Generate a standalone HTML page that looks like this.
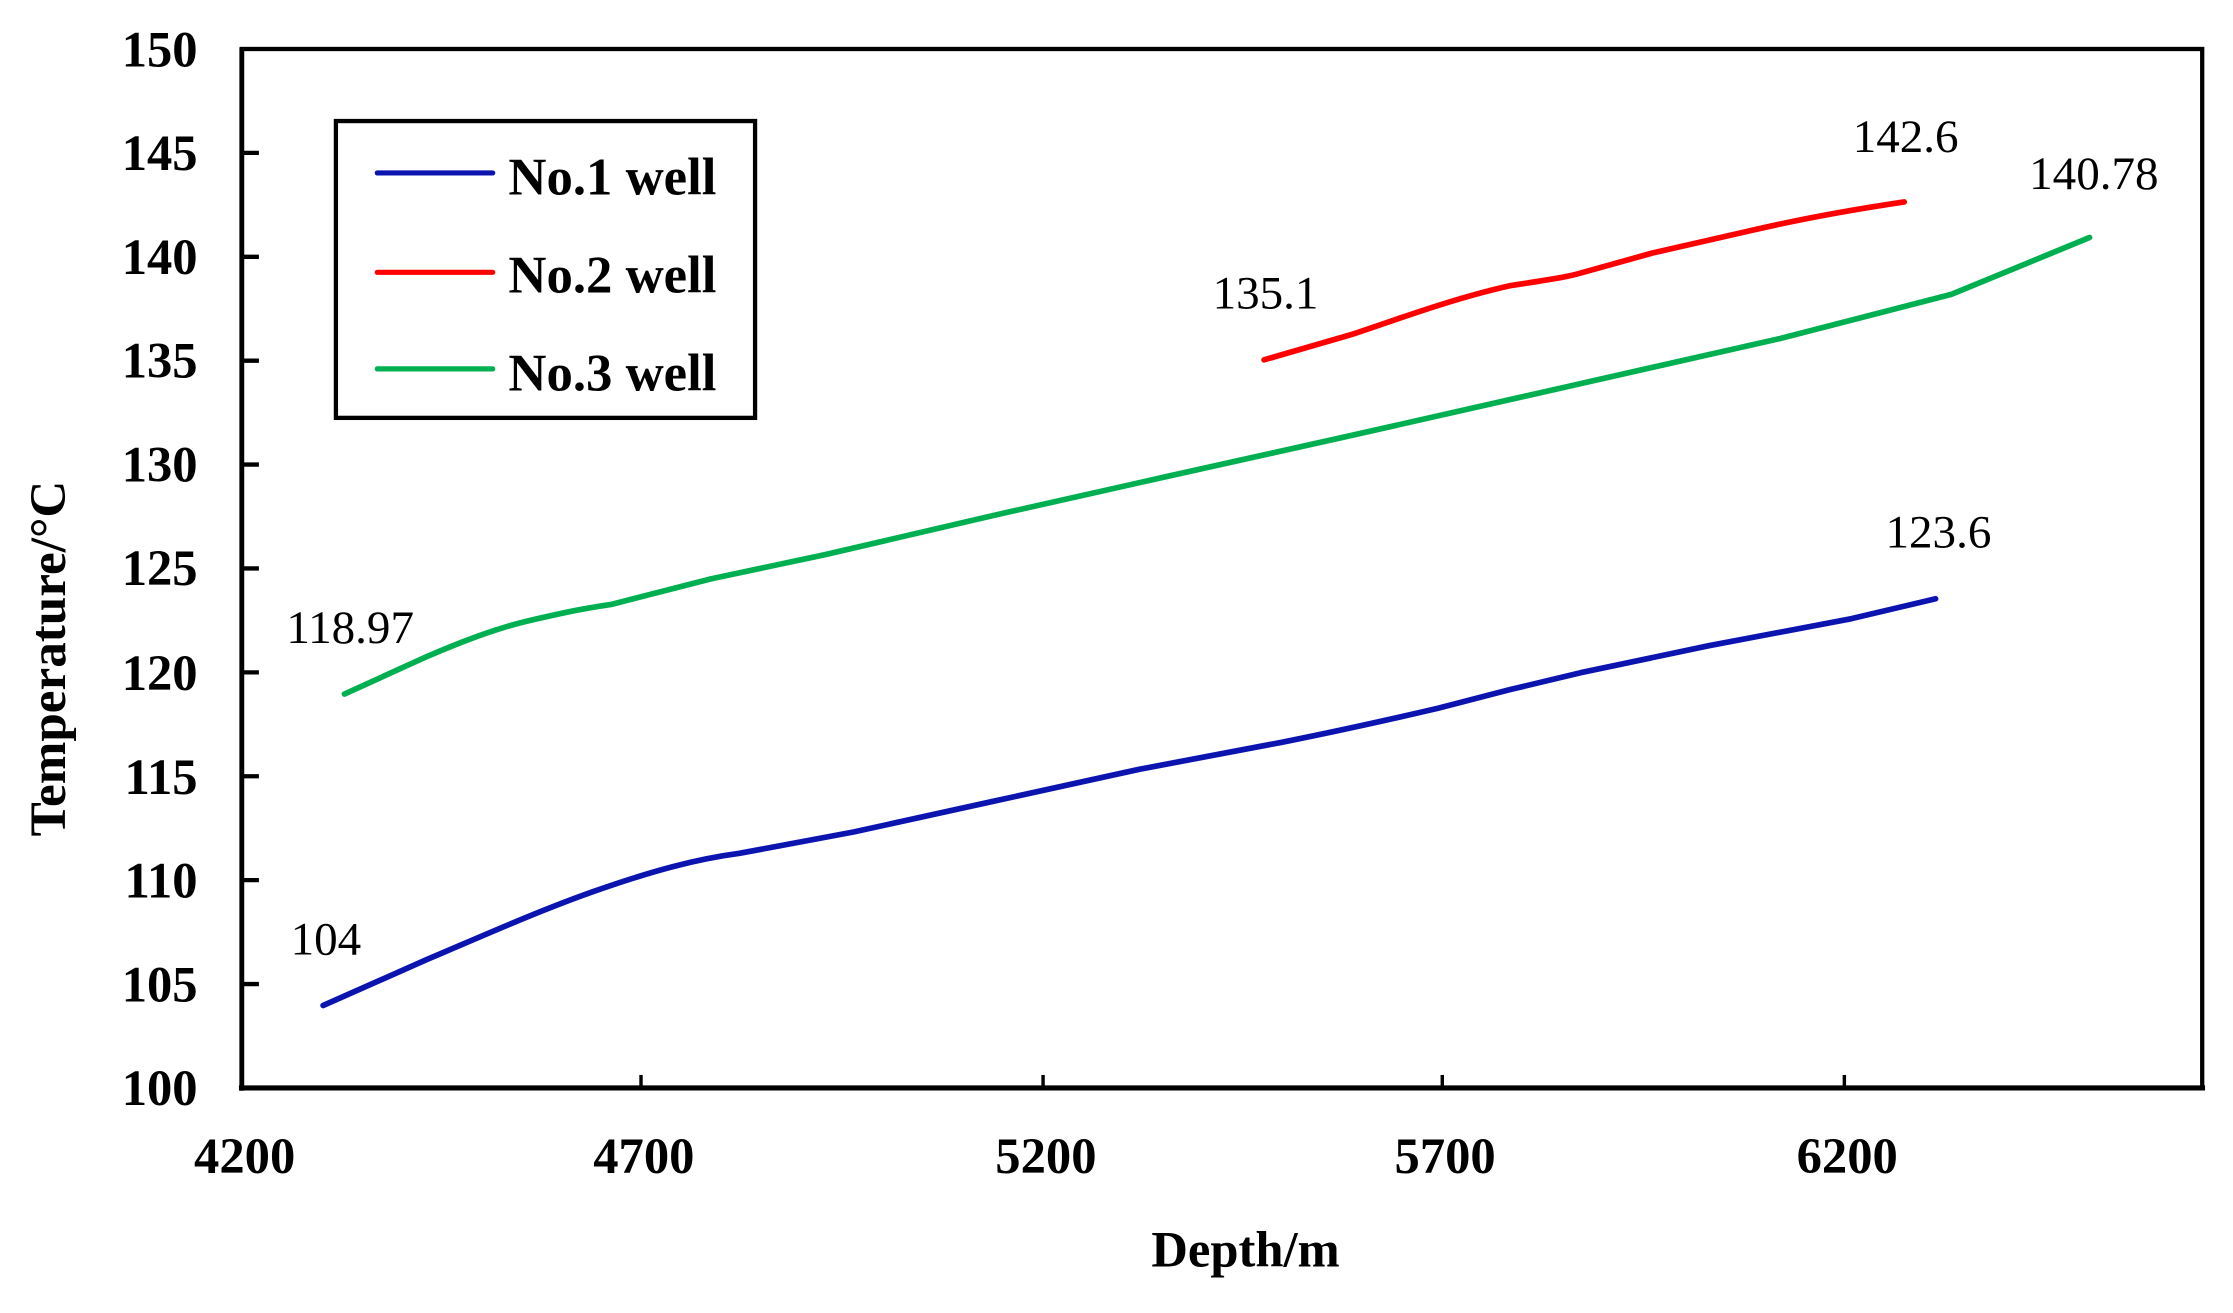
<!DOCTYPE html>
<html><head><meta charset="utf-8"><style>html,body{margin:0;padding:0;background:#fff}svg{display:block}</style></head>
<body>
<svg width="2233" height="1313" viewBox="1.4 0 1566.2 911.2" preserveAspectRatio="none" xmlns="http://www.w3.org/2000/svg" font-family="'Liberation Serif', serif">
<rect x="0" y="0" width="1570" height="912" fill="#fff"/>
<!-- axes -->
<rect x="171" y="34" width="1375" height="721" fill="none" stroke="#000" stroke-width="3"/>
<line x1="169" y1="755" x2="1548" y2="755" stroke="#000" stroke-width="3.6"/>
<line x1="171" y1="33" x2="171" y2="757" stroke="#000" stroke-width="3.4"/>
<g stroke="#000" stroke-width="3">
<line x1="171" x2="183" y1="106.1" y2="106.1"/><line x1="171" x2="183" y1="178.2" y2="178.2"/>
<line x1="171" x2="183" y1="250.3" y2="250.3"/><line x1="171" x2="183" y1="322.4" y2="322.4"/>
<line x1="171" x2="183" y1="394.5" y2="394.5"/><line x1="171" x2="183" y1="466.6" y2="466.6"/>
<line x1="171" x2="183" y1="538.7" y2="538.7"/><line x1="171" x2="183" y1="610.8" y2="610.8"/>
<line x1="171" x2="183" y1="682.9" y2="682.9"/>
</g>
<g stroke="#000" stroke-width="2.4">
<line x1="451" x2="451" y1="755" y2="746"/><line x1="733" x2="733" y1="755" y2="746"/>
<line x1="1013" x2="1013" y1="755" y2="746"/><line x1="1295" x2="1295" y1="755" y2="746"/>
</g>
<g font-size="35.5" font-weight="bold" text-anchor="end">
<text x="140" y="46">150</text><text x="140" y="118">145</text><text x="140" y="190">140</text>
<text x="140" y="262">135</text><text x="140" y="334">130</text><text x="140" y="406">125</text>
<text x="140" y="479">120</text><text x="140" y="551">115</text><text x="140" y="623">110</text>
<text x="140" y="695">105</text><text x="140" y="767">100</text>
</g>
<g font-size="35.5" font-weight="bold" text-anchor="middle">
<text x="173" y="814">4200</text><text x="453" y="814">4700</text><text x="735" y="814">5200</text>
<text x="1015" y="814">5700</text><text x="1297" y="814">6200</text>
<text x="875" y="879">Depth/m</text>
<text transform="translate(47,457) rotate(-90)">Temperature/°C</text>
</g>
<!-- legend -->
<rect x="237" y="84" width="294" height="206" fill="#fff" stroke="#000" stroke-width="3"/>
<line x1="266" x2="347" y1="120" y2="120" stroke="#0c14b0" stroke-width="3.6" stroke-linecap="round"/>
<line x1="266" x2="347" y1="189" y2="189" stroke="#ff0000" stroke-width="3.6" stroke-linecap="round"/>
<line x1="266" x2="347" y1="256" y2="256" stroke="#00b050" stroke-width="3.6" stroke-linecap="round"/>
<g font-size="37" font-weight="bold"><text x="358" y="135">No.1 well</text><text x="358" y="203">No.2 well</text><text x="358" y="271">No.3 well</text></g>
<!-- series -->
<g transform="scale(1,0.987)">
<g fill="none" stroke-width="4" stroke-linecap="round" stroke-linejoin="round">
<path stroke="#0c14b0" d="M228,707 L300,675 C340,658 380,640 420,626 C460,612 490,604 520,600 L600,585 L700,563 L800,541 L900,522 C940,514 980,505 1010,498 L1060,485 L1110,473 L1200,454 L1300,435 L1359,421"/>
<path stroke="#ff0000" d="M888,253 L950,235 C980,225 1020,210 1060,201 C1085,197 1100,195 1110,192 L1160,178 L1230,162 C1260,155 1290,149 1337,142"/>
<path stroke="#00b050" d="M243,488 L300,462 C330,449 350,442 370,437 C400,430 410,428 430,425 L500,407 L580,390 L700,362 L820,335 L950,306 L1100,272 L1250,238 L1370,207 L1467,167"/>
</g>
<g font-size="33" text-anchor="middle">
<text x="230" y="671">104</text><text x="247" y="452">118.97</text><text x="889" y="217">135.1</text>
<text x="1338" y="107">142.6</text><text x="1361" y="385">123.6</text><text x="1470" y="133">140.78</text>
</g>
</g>
</svg>
</body></html>
